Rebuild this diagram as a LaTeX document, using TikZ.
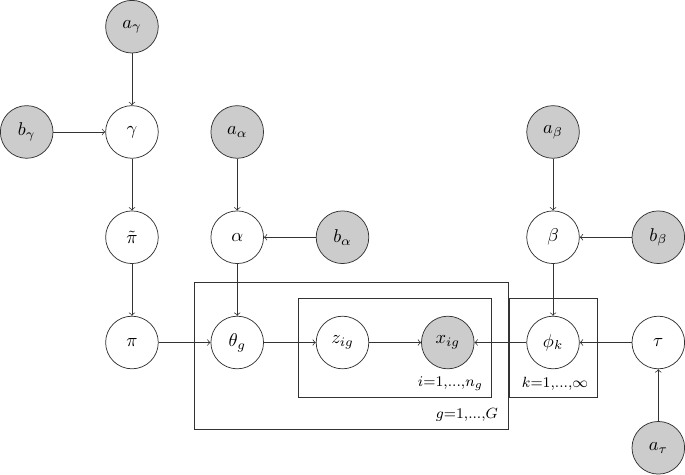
\documentclass[tikz,border=0pt]{standalone}
\usepackage{amsmath}
\usepackage{tikz}
\usetikzlibrary{positioning,fit}

\newcommand{\tightdots}{{.}{.}{.}}

\begin{document}
\begin{tikzpicture}[
  on grid, node distance=2cm,
  latent/.style={circle, draw=black!80, minimum size=1cm, inner sep=0pt},
  obs/.style={latent, fill=gray!40},
  plate/.style={draw=black!80, rectangle, inner sep=0.33cm},
  platelabel/.style={anchor=south east, inner sep=0pt, font=\footnotesize},
  edge/.style={->, draw=black!80}]

% Hyperpriors and the mixing weights
\node[latent] (gamma) {$\gamma$};
\node[obs, above=of gamma] (aGamma) {$a_\gamma$};
\node[obs, left=of gamma] (bGamma) {$b_\gamma$};
\node[latent, below=of gamma] (piTilde) {$\tilde{\pi}$};
\node[latent, below=of piTilde] (pi) {$\pi$};

% Group level
\node[latent, right=of pi] (theta) {$\theta_g$};
\node[latent, above=of theta] (alpha) {$\alpha$};
\node[obs, above=of alpha] (aAlpha) {$a_\alpha$};
\node[obs, right=of alpha] (bAlpha) {$b_\alpha$};
\node[latent, right=of theta] (z) {$z_{ig}$};
\node[obs, right=of z] (x) {$x_{ig}$};

% Components
\node[latent, right=of x] (phi) {$\phi_k$};
\node[latent, above=of phi] (beta) {$\beta$};
\node[obs, above=of beta] (aBeta) {$a_\beta$};
\node[obs, right=of beta] (bBeta) {$b_\beta$};
\node[latent, right=of phi] (tau) {$\tau$};
\node[obs, below=of tau] (aTau) {$a_\tau$};

% Plates
\coordinate (belowX) at ([yshift=-0.21cm]x.south);
\node[plate, fit=(z) (x) (belowX)] (plateI) {};
\node[platelabel] at ([shift={(-0.17,0.14)}]plateI.south east) (labelI) {$i{=}1{,}\tightdots{,}n_g$};
\coordinate (belowI) at ([yshift=-0.29cm]plateI.south);
\node[plate, inner sep=0.3cm, fit=(theta) (plateI) (belowI)] (plateG) {};
\node[platelabel] at ([shift={(-0.19,0.14)}]plateG.south east) (labelG) {$g{=}1{,}\tightdots{,}G$};
\coordinate (belowPhi) at ([yshift=-0.21cm]phi.south);
\node[plate, fit=(phi) (belowPhi)] (plateK) {};
\node[platelabel] at ([shift={(-0.17,0.14)}]plateK.south east) (labelK) {$k{=}1{,}\tightdots{,}\infty$};

% Draw the arrows between the nodes
\draw[edge] (aGamma) -- (gamma);
\draw[edge] (bGamma) -- (gamma);
\draw[edge] (gamma) -- (piTilde);
\draw[edge] (piTilde) -- (pi);
\draw[edge] (pi) -- (theta);
\draw[edge] (aAlpha) -- (alpha);
\draw[edge] (bAlpha) -- (alpha);
\draw[edge] (alpha) -- (theta);
\draw[edge] (theta) -- (z);
\draw[edge] (z) -- (x);
\draw[edge] (phi) -- (x);
\draw[edge] (aBeta) -- (beta);
\draw[edge] (bBeta) -- (beta);
\draw[edge] (beta) -- (phi);
\draw[edge] (tau) -- (phi);
\draw[edge] (aTau) -- (tau);

\useasboundingbox (bGamma.west |- aGamma.north) rectangle (tau.east |- aTau.south);
\end{tikzpicture}
\end{document}
